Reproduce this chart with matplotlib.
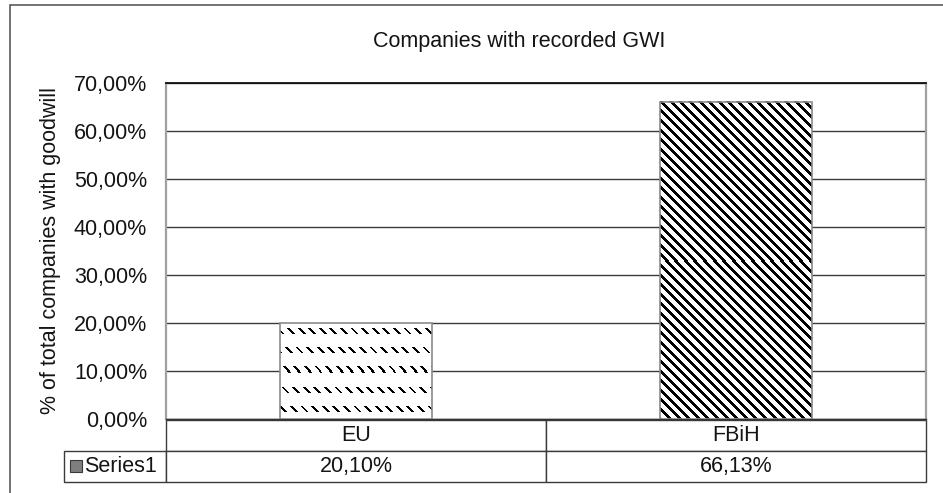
import numpy as np
import matplotlib
matplotlib.use("Agg")
import matplotlib.pyplot as plt
from matplotlib.table import Table
from matplotlib.patches import Rectangle

# Data
categories = ["EU", "FBiH"]
values = [0.2010, 0.6613]
value_labels = ["20,10%", "66,13%"]
series_name = "Series1"
yticks = [0.0, 0.1, 0.2, 0.3, 0.4, 0.5, 0.6, 0.7]
ytick_labels = ["0,00%", "10,00%", "20,00%", "30,00%", "40,00%", "50,00%", "60,00%", "70,00%"]
title = "Companies with recorded GWI"
ylabel = "% of total companies with goodwill"

FONT = "Liberation Sans"
FS = 15.5
TXT = "#141414"
plt.rcParams["font.family"] = [FONT, "DejaVu Sans"]

W, H, DPI = 943, 493, 100
fig = plt.figure(figsize=(W / DPI, H / DPI), dpi=DPI)
fig.patch.set_facecolor("white")

# plot area in pixel terms
left, right, top, bottom = 166, 926, 83, 419
ax = fig.add_axes([left / W, (H - bottom) / H, (right - left) / W, (bottom - top) / H])

x = np.arange(len(categories))
ax.set_xlim(-0.5, len(categories) - 0.5)
ax.set_ylim(0, 0.7)
ax.set_yticks(yticks)
ax.set_yticklabels(ytick_labels, fontsize=FS, color=TXT)
ax.set_xticks([])
ax.tick_params(axis="y", length=0, pad=13.5)
ax.grid(axis="y", color="#3a3a3a", linewidth=1.0)
ax.set_axisbelow(True)

for s in ["left", "right"]:
    ax.spines[s].set_color("#a0a0a0")
    ax.spines[s].set_linewidth(1.6)
ax.spines["top"].set_color("#111111")
ax.spines["top"].set_linewidth(1.3)
ax.spines["bottom"].set_color("#333333")
ax.spines["bottom"].set_linewidth(1.0)

bars = ax.bar(x, values, width=0.4, facecolor="none", edgecolor="#8a8a8a",
              linewidth=1.2, zorder=4)

ax.set_ylabel(ylabel, fontsize=FS, color=TXT, labelpad=9)

# pixel fill patterns for the bars
fig.canvas.draw()


def dashed_diag(X, Y):
    return ((Y % 19.3) < 6.0) & (((X - Y) % 10.6) < 2.8)


def wide_diag(X, Y):
    return ((X - Y) % 9.6) < 4.0


patterns = [dashed_diag, wide_diag]
for rect, fn in zip(bars, patterns):
    bb = rect.get_window_extent()
    w = int(round(bb.width))
    h = int(round(bb.height))
    ys, xs = np.mgrid[0:h, 0:w]
    X = np.round(bb.x0) + xs
    Y = np.round(H - bb.y1) + ys
    arr = np.where(fn(X, Y), 0.0, 1.0)
    x0 = rect.get_x()
    ax.imshow(arr, extent=(x0, x0 + rect.get_width(), 0, rect.get_height()),
              aspect="auto", interpolation="nearest", cmap="gray",
              vmin=0, vmax=1, zorder=3, origin="upper")

ax.set_xlim(-0.5, len(categories) - 0.5)
ax.set_ylim(0, 0.7)

# data table under the plot
tab_left, tab_bottom, row_h = 64, 482, 31
tbl = Table(ax, bbox=[(tab_left - left) / (right - left),
                      (bottom - tab_bottom) / (bottom - top),
                      (right - tab_left) / (right - left),
                      2 * row_h / (bottom - top)])
label_w = left - tab_left
col_w = (right - left) / len(categories)
edge = "#3a3a3a"
c = tbl.add_cell(0, 0, width=label_w, height=row_h, text="")
c.visible_edges = ""
for j, cat in enumerate(categories):
    c = tbl.add_cell(0, j + 1, width=col_w, height=row_h, text=cat, loc="center")
    c.set_edgecolor(edge)
c = tbl.add_cell(1, 0, width=label_w, height=row_h, text=series_name, loc="right")
c.set_edgecolor(edge)
c.PAD = 0.09
for j, lab in enumerate(value_labels):
    c = tbl.add_cell(1, j + 1, width=col_w, height=row_h, text=lab, loc="center")
    c.set_edgecolor(edge)
tbl.auto_set_font_size(False)
tbl.set_fontsize(FS)
for cell in tbl.get_celld().values():
    cell.get_text().set_color(TXT)
    cell.set_linewidth(1.0)
tbl.set_clip_on(False)
ax.add_table(tbl)

# legend key in the series cell
ax.plot([(76 - left) / (right - left)], [(bottom - 465.5) / (bottom - top)],
        marker="s", markersize=8.0, markerfacecolor="#7f7f7f",
        markeredgecolor="#3a3a3a", markeredgewidth=0.8,
        transform=ax.transAxes, clip_on=False, linestyle="none")

fig.text(519.5 / W, 1 - 41.7 / H, title, fontsize=FS, color=TXT,
         ha="center", va="center")

# chart frame
fig.patches.append(Rectangle((10 / W, -0.1), 1.1, (H - 5) / H + 0.1,
                             transform=fig.transFigure, fill=False,
                             edgecolor="#5a5a5a", linewidth=1.2))

fig.savefig("out.png", dpi=DPI, facecolor="white")
